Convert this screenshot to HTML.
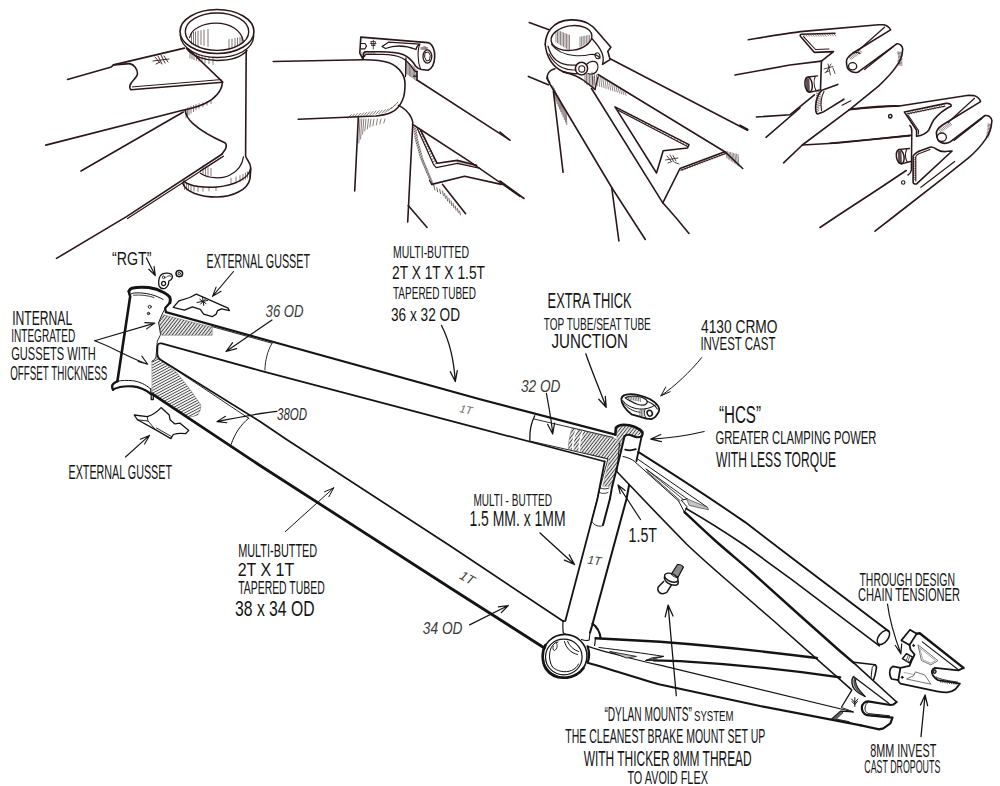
<!DOCTYPE html>
<html><head><meta charset="utf-8"><title>Frame details</title>
<style>
html,body{margin:0;padding:0;background:#fff}
svg{display:block}
text{font-family:"Liberation Sans",sans-serif;-webkit-font-smoothing:antialiased}
path,ellipse,line{stroke-linecap:round;stroke-linejoin:round}
</style></head><body>
<svg width="1000" height="786" viewBox="0 0 1000 786">
<rect width="1000" height="786" fill="#fff"/>
<ellipse cx="217" cy="31.5" rx="37" ry="22" transform="rotate(0 217 31.5)" stroke="#2b1719" stroke-width="1.6" fill="none"/>
<ellipse cx="217" cy="31.7" rx="31.7" ry="18.7" transform="rotate(0 217 31.7)" stroke="#2b1719" stroke-width="1.4" fill="none"/>
<path d="M180.3 35 C181 49 199 57.5 217 57.5 C236 57.5 253 50 253.7 36" stroke="#2b1719" stroke-width="1.4" fill="none" />
<path d="M186.5 48.5 C193 57 206 60.5 217 60.5 C230 60.5 241 57.5 247 50.5" stroke="#2b1719" stroke-width="1.4" fill="none" />
<path d="M189.7 37.5 C191 28.5 204 23.2 215.7 23.2 C230 23.2 241.5 30 243.2 41.2" stroke="#2b1719" stroke-width="1.3" fill="none" />
<path d="M246.2 50.5 L245.6 155.7 C246 160 250.8 161 250.8 169 L250 178.6 C248 190 232 197 217 197 C200 197 186 192 182.8 183.5 L184 181" stroke="#2b1719" stroke-width="1.6" fill="none" />
<path d="M184.4 181.6 C190 186.5 205 188 217 187 C235 185.5 249.5 178 250.6 168" stroke="#2b1719" stroke-width="1.4" fill="none" />
<path d="M200.4 173.2 C208 178.5 222 179.3 230 175 C238 171 242.5 164 243.4 157" stroke="#2b1719" stroke-width="1.3" fill="none" />
<path d="M67.5 79.4 L111.3 66.9 L113.5 64.9 L129.8 63.6" stroke="#2b1719" stroke-width="1.6" fill="none" />
<path d="M113.5 64.9 L184.4 48.1" stroke="#2b1719" stroke-width="1.6" fill="none" />
<path d="M129.8 63.6 C134 64.5 137.5 69 137.5 73.8 C137 78 131 81 130 85.3 C129.5 87.5 130 89 131.1 89.8 L222.8 82.2 L188.4 49" stroke="#2b1719" stroke-width="1.6" fill="none" />
<path d="M132.4 86.9 L221.0 79.6" stroke="#2b1719" stroke-width="1.0" fill="none" />
<path d="M222.3 83.3 C221.5 91 215 99 205 103.5 C197 107 190 109 183.6 110 L45.8 145.1" stroke="#2b1719" stroke-width="1.6" fill="none" />
<path d="M183.3 112.0 L81.0 171.0" stroke="#2b1719" stroke-width="1.6" fill="none" />
<path d="M185 110 C185.5 114 188 119 193 123.6 C200 130 212 137 224.8 142.7 C226.5 144 226.8 146 225.5 149 L221.8 154.2" stroke="#2b1719" stroke-width="1.6" fill="none" />
<path d="M222.3 154.0 L126.5 216.6 L56.5 258.4" stroke="#2b1719" stroke-width="1.6" fill="none" />
<path d="M223.5 156.2 L127.5 218.5" stroke="#2b1719" stroke-width="1.2" fill="none" />
<path d="M221.0 157.5 L200.0 171.0" stroke="#2b1719" stroke-width="1.0" fill="none" />
<path d="M155.0 57.0L160.0 63.0 M158.0 56.0L162.0 64.0 M161.0 55.0L165.0 63.0 M164.0 56.0L168.0 62.0 M153.0 61.0L169.0 59.0 M156.0 64.0L160.0 62.0" stroke="#2b1719" stroke-width="0.9" fill="none" opacity="1"/>
<path d="M191.5 33.0L191.5 44.0 M193.5 32.4L193.5 44.9 M195.5 31.8L195.5 45.8 M198.0 31.2L198.0 46.7 M201.0 30.6L201.0 44.6 M204.0 30.0L204.0 45.5 M208.0 29.4L208.0 46.4 M229.0 49.0L229.0 39.5 M232.0 47.8L232.0 39.0 M235.0 46.6L235.0 38.5 M237.5 45.4L237.5 38.0 M240.0 44.2L240.0 37.5 M242.0 43.0L242.0 37.0" stroke="#2b1719" stroke-width="0.8" fill="none" opacity="0.75"/>
<path d="M190.0 52.0L190.0 58.0 M192.0 52.7L192.0 58.8 M194.0 53.4L194.0 59.6 M196.5 54.1L196.5 60.4 M199.0 54.8L199.0 61.2 M202.0 55.5L202.0 62.0 M205.0 56.2L205.0 62.8 M209.0 56.9L209.0 63.6 M213.0 57.6L213.0 64.4" stroke="#2b1719" stroke-width="0.8" fill="none" opacity="0.7"/>
<path d="M186.0 109.0L186.0 118.0 M187.5 108.1L187.5 116.4 M189.0 107.2L189.0 114.8 M191.0 106.3L191.0 113.2 M193.5 105.4L193.5 111.6 M196.0 104.5L196.0 110.0 M199.0 103.6L199.0 108.4 M203.0 102.7L203.0 106.8 M207.0 101.8L207.0 105.2 M211.0 100.9L211.0 103.6" stroke="#2b1719" stroke-width="0.8" fill="none" opacity="0.7"/>
<path d="M184.5 183.5L184.5 189.5 M186.5 184.2L186.5 189.9 M188.5 184.9L188.5 190.3 M191.0 185.6L191.0 190.7 M194.0 186.3L194.0 191.1 M198.0 187.0L198.0 191.5 M203.0 187.0L203.0 191.2 M209.0 187.0L209.0 190.9 M216.0 187.0L216.0 190.6 M249.5 170.5L249.5 176.5 M247.5 171.8L247.5 177.8 M245.5 173.1L245.5 179.1 M243.0 174.4L243.0 180.4 M240.0 175.7L240.0 181.7 M236.0 177.0L236.0 183.0 M231.0 178.3L231.0 184.3 M203.0 166.0L203.0 174.0 M205.5 166.8L205.5 174.6 M208.0 167.6L208.0 175.2 M211.0 168.4L211.0 175.8" stroke="#2b1719" stroke-width="0.8" fill="none" opacity="0.7"/>
<path d="M273.2 61.5 L363.2 59.7" stroke="#2b1719" stroke-width="1.6" fill="none" />
<path d="M364.4 59.7 C375 59.7 384 61 389 62.8 C395 65 399 69 401.5 72.5 C404 76 405 80 405 84 C405 90 404.5 96 402.5 100 C400 106 396 110.5 391 112.5 C386 114.8 381 115.5 376 116 L298.2 119.3" stroke="#2b1719" stroke-width="1.6" fill="none" />
<path d="M358.3 117.9 L354.7 191.0" stroke="#2b1719" stroke-width="1.6" fill="none" />
<path d="M398.5 105.4 C404 108 409 113 411.5 118 C413 121 413.3 124 412.6 127 L410.2 172.7 L407.7 222" stroke="#2b1719" stroke-width="1.6" fill="none" />
<path d="M408.2 205.5 L427.1 227.5" stroke="#2b1719" stroke-width="1.6" fill="none" />
<path d="M417.0 80.0 L510.0 140.2" stroke="#2b1719" stroke-width="1.6" fill="none" />
<path d="M413.5 125.0 L468.3 160.6 L520.0 196.3" stroke="#2b1719" stroke-width="1.6" fill="none" />
<path d="M420.7 130.3 L437.1 163.3 L457.3 160.4 L476.5 165.2" stroke="#2b1719" stroke-width="1.6" fill="none" />
<path d="M417.5 128.8 L433.5 164.6 L436.2 167.7 L457.3 163.3 L480.5 168.5" stroke="#2b1719" stroke-width="1.2" fill="none" />
<path d="M431.7 184.4 L464.6 176.2 L501.3 184.4" stroke="#2b1719" stroke-width="1.6" fill="none" />
<path d="M429.5 180.5 L431.7 184.4" stroke="#2b1719" stroke-width="1.2" fill="none" />
<path d="M442.6 184.4 L465.6 213.7" stroke="#2b1719" stroke-width="1.6" fill="none" />
<path d="M363.2 59.5 L359.8 53.2 L360.8 37.1 L428 42.6 C432.5 44 435 50 434.7 56.7 C434.5 63 432 68.5 428 70.2 L421.5 69.5 C418.5 69 416.8 67.5 415.5 66 C412 60 408 56.5 403 54.5 C396 52 388 51.8 380 51.8 L365 51.8 C363.5 52.5 363 55 363.2 59.5" stroke="#2b1719" stroke-width="1.6" fill="none" />
<path d="M364.5 56.5 C364.6 54.8 365.5 54.4 367 54.4 L382 54.4 C390 54.6 397 55.5 402 58 C406 60 410.5 65 413.5 69.5 C415 71.5 416 72 417 71.5" stroke="#2b1719" stroke-width="1.3" fill="none" />
<path d="M406.0 58.0 L405.5 76.5" stroke="#2b1719" stroke-width="1.3" fill="none" />
<path d="M417.0 71.3 L417.0 80.0" stroke="#2b1719" stroke-width="1.6" fill="none" />
<path d="M413.5 76.2 L417.0 76.2" stroke="#2b1719" stroke-width="1.2" fill="none" />
<path d="M361 43.5 L365 43.5 L366.5 46 L365 48.8 L361 48.8" stroke="#2b1719" stroke-width="1.2" fill="none" />
<path d="M382 46.5 L388.5 42.2 L420 44.2 C418 45 416.5 46.8 416 49.5 C406 45.5 396 44.5 385.5 48.5 Z" stroke="#2b1719" stroke-width="1.3" fill="none" />
<ellipse cx="427.4" cy="56.5" rx="4.4" ry="6.6" transform="rotate(0 427.4 56.5)" stroke="#2b1719" stroke-width="1.3" fill="none"/>
<path d="M425.4 52.6 L428.5 52 L430.3 55.5 L429.5 60.2 L426.5 61 L424.8 57.5 Z" stroke="#2b1719" stroke-width="1.0" fill="none" />
<path d="M419.5 45 C417.5 50 417.5 62 420.5 69" stroke="#2b1719" stroke-width="1.1" fill="none" />
<path d="M371.0 41.5L375.0 41.5 M370.5 43.5L376.0 43.5 M373.3 40.0L373.3 49.0 M371.5 45.5L375.0 45.5 M371.0 42.0L372.0 45.0 M375.5 42.0L374.6 45.0" stroke="#2b1719" stroke-width="0.8" fill="none" opacity="1"/>
<path d="M348.0 118.2L351.2 114.6 M351.1 117.8L354.3 114.2 M354.2 117.3L357.4 113.7 M357.3 116.9L360.5 113.3 M360.4 116.4L363.6 112.8 M363.5 116.0L366.7 112.4 M366.6 115.5L369.8 111.9 M369.7 115.0L372.9 111.5 M372.8 114.6L376.0 111.0 M375.9 114.2L379.1 110.6 M379.0 113.7L382.2 110.1 M382.1 113.2L385.3 109.7 M385.2 112.5L388.4 108.9 M388.3 111.0L391.5 107.4 M391.4 108.8L394.6 105.2 M394.5 105.9L397.7 102.3" stroke="#2b1719" stroke-width="0.8" fill="none" opacity="0.75"/>
<path d="M360.0 119.0L358.8 143.0 M361.8 119.0L360.6 139.0 M363.8 119.0L362.6 134.0 M366.0 119.0L364.8 131.0 M368.5 119.0L367.3 129.0 M371.0 119.0L369.8 127.0 M374.0 119.0L372.8 126.0 M377.5 119.0L376.3 125.0 M381.0 119.0L379.8 124.0 M385.0 119.0L383.8 123.0" stroke="#2b1719" stroke-width="0.8" fill="none" opacity="0.7"/>
<path d="M405.5 60.0L405.5 73.0 M406.8 61.1L406.8 73.9 M408.1 62.2L408.1 74.8 M409.4 63.3L409.4 75.7 M410.7 64.4L410.7 76.6 M412.0 65.5L412.0 77.5 M413.3 66.6L413.3 78.4 M414.6 67.7L414.6 79.3 M415.9 68.8L415.9 80.2" stroke="#2b1719" stroke-width="0.8" fill="none" opacity="0.7"/>
<path d="M413.3 127.5L416.3 129.0 M413.6 129.3L416.6 130.8 M413.8 131.1L416.8 132.6 M414.1 132.9L417.1 134.4 M414.4 134.6L417.4 136.1 M414.6 136.4L417.6 137.9 M414.9 138.2L417.9 139.7 M415.3 140.0L418.3 141.5 M415.7 141.7L418.7 143.2 M416.2 143.4L419.2 144.9 M416.7 145.2L419.7 146.7 M417.2 146.9L420.2 148.4 M417.7 148.7L420.7 150.2 M418.2 150.4L421.2 151.9 M418.6 152.1L421.6 153.6 M419.1 153.9L422.1 155.4 M419.6 155.6L422.6 157.1 M420.1 157.4L423.1 158.9 M420.7 159.0L423.7 160.5 M421.4 160.7L424.4 162.2 M422.1 162.4L425.1 163.9 M422.8 164.0L425.8 165.5 M423.5 165.7L426.5 167.2 M424.2 167.4L427.2 168.9 M424.9 169.0L427.9 170.5 M425.6 170.7L428.6 172.2 M426.3 172.4L429.3 173.9 M427.0 174.0L430.0 175.5 M427.7 175.7L430.7 177.2 M428.4 177.3L431.4 178.8 M429.1 179.0L432.1 180.5 M429.8 180.7L432.8 182.2 M430.5 182.3L433.5 183.8 M431.2 184.0L434.2 185.5" stroke="#2b1719" stroke-width="0.75" fill="none" opacity="0.9"/>
<path d="M421.5 131.0L419.1 132.2 M422.7 133.5L420.3 134.7 M423.9 135.9L421.5 137.1 M425.1 138.4L422.7 139.6 M426.3 140.8L423.9 142.0 M427.5 143.3L425.1 144.5 M428.7 145.8L426.3 147.0 M429.8 148.2L427.4 149.4 M431.0 150.7L428.6 151.9 M432.2 153.2L429.8 154.4 M433.4 155.6L431.0 156.8 M434.6 158.1L432.2 159.3 M435.8 160.5L433.4 161.7 M437.0 163.0L434.6 164.2" stroke="#2b1719" stroke-width="0.8" fill="none" opacity="0.8"/>
<path d="M458.0 161.2L458.0 163.4 M460.0 161.6L460.0 163.8 M462.0 162.1L462.0 164.3 M464.0 162.5L464.0 164.7 M466.0 163.0L466.0 165.2 M468.0 163.4L468.0 165.6 M470.0 163.9L470.0 166.1 M472.0 164.3L472.0 166.5 M474.0 164.8L474.0 167.0 M476.0 165.2L476.0 167.4" stroke="#2b1719" stroke-width="0.8" fill="none" opacity="0.8"/>
<path d="M434.0 186.0L434.9 190.0 M436.8 187.7L437.7 191.9 M439.7 189.3L440.6 193.7 M442.5 191.0L443.4 195.6 M444.6 193.5L445.5 198.3 M446.7 196.0L447.6 201.0 M448.9 198.5L449.8 203.3 M451.0 201.0L451.9 205.6 M453.1 203.5L454.0 207.9 M455.2 206.0L456.1 210.2 M457.4 208.5L458.3 212.5 M459.5 211.0L460.4 214.8" stroke="#2b1719" stroke-width="0.8" fill="none" opacity="0.85"/>
<path d="M362.0 52.5L362.0 54.6 M363.6 52.5L363.6 54.6 M365.2 52.5L365.2 54.6 M366.8 52.5L366.8 54.6 M368.4 52.5L368.4 54.6 M370.0 52.5L370.0 54.6 M371.6 52.5L371.6 54.6 M373.2 52.5L373.2 54.6 M374.8 52.5L374.8 54.6 M421.0 47.7L421.0 49.5 M421.9 47.4L421.9 49.5 M422.8 47.1L422.8 49.5 M423.7 46.8L423.7 49.5 M424.6 46.5L424.6 49.5 M425.5 46.8L425.5 49.5 M426.4 47.1L426.4 49.5 M427.3 47.4L427.3 49.5" stroke="#2b1719" stroke-width="0.7" fill="none" opacity="0.7"/>
<path d="M529.2 22.6 L549.0 29.8" stroke="#2b1719" stroke-width="1.6" fill="none" />
<path d="M528.4 76.4 L548.3 84.8" stroke="#2b1719" stroke-width="1.6" fill="none" />
<path d="M500.0 132.0 L509.0 139.5" stroke="#2b1719" stroke-width="1.6" fill="none" />
<path d="M500.0 181.0 L524.0 198.5" stroke="#2b1719" stroke-width="1.6" fill="none" />
<path d="M545.2 44.3 C545.5 38 547.5 33 550.5 29 C555 23.5 562 20.2 570.4 19.9 C577 19.7 583 21 587.2 22.9 C591 25 594 27.5 596.4 30.5 L610.9 47.3 L607.8 51.2 L610.1 59.6 L602.5 64.2" stroke="#2b1719" stroke-width="1.6" fill="none" />
<ellipse cx="571.5" cy="38" rx="20.5" ry="12.3" transform="rotate(-8 571.5 38)" stroke="#2b1719" stroke-width="1.4" fill="none"/>
<path d="M545.2 44.3 C546 52 548 57 551 61.5 C554 66 558 69.5 563 71.5 C568 73.5 573 74 577.5 73.5" stroke="#2b1719" stroke-width="1.5" fill="none" />
<path d="M548 46 C549.5 52 552 56.5 556 60 C561 64 568 65.8 576 65" stroke="#2b1719" stroke-width="1.2" fill="none" />
<path d="M549 54 C552 60 556 64.5 562 67.5 C567 69.8 572 70.3 576 69.8" stroke="#2b1719" stroke-width="1.1" fill="none" />
<path d="M551.5 44.5 C556 50.5 564 54.5 574 55.5 C580 56 586 55.5 590 54.5" stroke="#2b1719" stroke-width="1.2" fill="none" />
<ellipse cx="581.5" cy="68.6" rx="6.1" ry="6.3" transform="rotate(0 581.5 68.6)" stroke="#2b1719" stroke-width="1.5" fill="none"/>
<ellipse cx="581.8" cy="68.9" rx="3" ry="3.2" transform="rotate(0 581.8 68.9)" stroke="#2b1719" stroke-width="1.1" fill="none"/>
<path d="M587 64 C590 61 594 60.5 596.5 62.5 C598.5 65 598.5 69 596 72 C594 74 591 74.8 588 73.5" stroke="#2b1719" stroke-width="1.3" fill="none" />
<path d="M591.8 38.5 C596 43 600 48 602 53 C603.5 57 603.5 61 602.5 64.2" stroke="#2b1719" stroke-width="1.3" fill="none" />
<path d="M590 54.5 C594 54 598 55.5 600 58" stroke="#2b1719" stroke-width="1.2" fill="none" />
<ellipse cx="597.5" cy="55.8" rx="2.3" ry="3" transform="rotate(-20 597.5 55.8)" stroke="#2b1719" stroke-width="1.1" fill="none"/>
<path d="M610.1 58.8 L747.5 130.3" stroke="#2b1719" stroke-width="1.6" fill="none" />
<path d="M547.3 76 C548 72.5 551 69.5 555 68.7" stroke="#2b1719" stroke-width="1.4" fill="none" />
<path d="M547.3 76 C547 78 548 80.5 549.6 82.5" stroke="#2b1719" stroke-width="1.6" fill="none" />
<path d="M563 72 C572 73.5 582 78.5 589 84.5 C591.5 86.5 593.5 88.3 595 89.5" stroke="#2b1719" stroke-width="1.4" fill="none" />
<path d="M595.0 89.5 L598.0 76.8" stroke="#2b1719" stroke-width="1.3" fill="none" />
<path d="M598.0 74.5 L724.8 151.7" stroke="#2b1719" stroke-width="1.6" fill="none" />
<path d="M553.4 91.2 L563.1 172.3" stroke="#2b1719" stroke-width="1.6" fill="none" />
<path d="M546.7 78 L549.6 83.5 L611.7 187.5 L645.3 239.5" stroke="#2b1719" stroke-width="1.6" fill="none" />
<path d="M611.7 187.5 L618.9 240.9" stroke="#2b1719" stroke-width="1.6" fill="none" />
<path d="M591.5 88.5 L662.8 202.8 C672 213 681 223.5 689 233.5" stroke="#2b1719" stroke-width="1.6" fill="none" />
<path d="M662.8 202.8 L680.0 168.5 L724.8 151.7 L742.7 168.5" stroke="#2b1719" stroke-width="1.6" fill="none" />
<path d="M680.8 170.3 L725.5 153.6" stroke="#2b1719" stroke-width="1.1" fill="none" />
<path d="M615.0 106.9 L689.0 144.6 L687.5 148.0 L663.2 150.8 L656.5 173.0 Z" stroke="#2b1719" stroke-width="1.6" fill="none" />
<path d="M617.5 110.0 L687.5 146.6" stroke="#2b1719" stroke-width="1.1" fill="none" />
<path d="M667.0 156.0L671.0 161.0 M670.0 155.0L674.0 162.0 M673.0 155.5L676.0 161.0 M665.5 160.0L678.0 158.0 M668.0 163.0L672.0 161.5 M675.0 162.5L679.0 164.0" stroke="#2b1719" stroke-width="0.8" fill="none" opacity="1"/>
<path d="M553.0 86.0L553.6 96.0 M554.2 88.4L554.8 98.6 M555.4 90.8L556.0 101.2 M556.6 93.2L557.2 103.8 M557.8 95.6L558.4 106.4 M559.0 98.0L559.6 109.0 M560.2 100.4L560.8 111.6 M561.4 102.8L562.0 114.2 M562.6 105.2L563.2 116.8 M563.8 107.6L564.4 119.4 M565.0 110.0L565.6 122.0 M566.2 112.4L566.8 124.6" stroke="#2b1719" stroke-width="0.8" fill="none" opacity="0.7"/>
<path d="M556.0 32.2L556.0 42.0 M557.5 31.6L557.5 42.9 M559.0 31.0L559.0 43.8 M560.5 31.6L560.5 44.7 M562.0 32.2L562.0 45.6 M563.5 32.8L563.5 46.5 M565.0 33.4L565.0 47.4 M566.5 34.0L566.5 48.3 M568.0 34.6L568.0 49.2 M569.5 35.2L569.5 50.1 M580.0 47.0L580.0 37.0 M581.6 46.1L581.6 36.7 M583.2 45.2L583.2 36.4 M584.8 44.3L584.8 36.1 M586.4 43.4L586.4 35.8 M588.0 42.5L588.0 35.5 M589.6 41.6L589.6 35.2" stroke="#2b1719" stroke-width="0.8" fill="none" opacity="0.65"/>
<path d="M592.0 72.0L593.0 84.0 M594.2 73.3L595.2 84.8 M596.4 74.7L597.4 85.5 M598.6 76.0L599.6 86.2 M600.8 77.4L601.8 87.0 M603.0 78.8L604.0 87.8 M605.2 80.1L606.2 88.5 M607.4 81.5L608.4 89.2 M609.6 82.8L610.6 90.0 M611.8 84.2L612.8 90.8 M614.0 85.5L615.0 91.5 M616.2 86.8L617.2 92.2 M618.4 88.2L619.4 93.0 M620.6 89.5L621.6 93.8 M622.8 90.9L623.8 94.5 M625.0 92.2L626.0 95.2" stroke="#2b1719" stroke-width="0.8" fill="none" opacity="0.65"/>
<path d="M619.0 110.3L619.9 108.6 M621.9 111.8L622.8 110.1 M624.8 113.4L625.7 111.7 M627.7 114.9L628.6 113.2 M630.7 116.4L631.6 114.7 M633.6 118.0L634.5 116.3 M636.5 119.5L637.4 117.8 M639.4 121.0L640.3 119.3 M642.3 122.5L643.2 120.8 M645.2 124.1L646.1 122.4 M648.1 125.6L649.0 123.9 M651.0 127.1L651.9 125.4 M654.0 128.7L654.9 127.0 M656.9 130.2L657.8 128.5 M659.8 131.7L660.7 130.0 M662.7 133.3L663.6 131.6 M665.6 134.8L666.5 133.1 M668.5 136.3L669.4 134.6 M671.4 137.8L672.3 136.1 M674.3 139.4L675.2 137.7 M677.3 140.9L678.2 139.2 M680.2 142.4L681.1 140.7 M683.1 144.0L684.0 142.3 M686.0 145.5L686.9 143.8" stroke="#2b1719" stroke-width="0.7" fill="none" opacity="0.8"/>
<path d="M682.0 169.0L682.7 170.6 M684.5 168.0L685.2 169.6 M686.9 167.1L687.6 168.7 M689.4 166.1L690.1 167.7 M691.9 165.1L692.6 166.7 M694.4 164.2L695.1 165.8 M696.8 163.2L697.5 164.8 M699.3 162.2L700.0 163.8 M701.8 161.3L702.5 162.9 M704.2 160.3L704.9 161.9 M706.7 159.4L707.4 161.0 M709.2 158.4L709.9 160.0 M711.6 157.4L712.3 159.0 M714.1 156.5L714.8 158.1 M716.6 155.5L717.3 157.1 M719.1 154.5L719.8 156.1 M721.5 153.6L722.2 155.2 M724.0 152.6L724.7 154.2" stroke="#2b1719" stroke-width="0.7" fill="none" opacity="0.8"/>
<path d="M726.0 151.3L726.9 157.9 M727.5 151.7L728.4 159.0 M729.0 152.1L729.9 160.0 M730.5 152.5L731.4 161.0 M732.0 152.9L732.9 162.1 M733.5 153.3L734.4 163.1 M735.0 153.7L735.9 164.1 M736.5 154.1L737.4 165.2 M738.0 154.5L738.9 166.2" stroke="#2b1719" stroke-width="0.8" fill="none" opacity="0.65"/>
<path d="M585.0 73.0L585.0 83.0 M586.5 73.6L586.5 83.9 M588.0 74.2L588.0 84.8 M589.5 74.8L589.5 85.7 M591.0 75.4L591.0 86.6 M592.5 76.0L592.5 87.5 M594.0 76.6L594.0 88.4" stroke="#2b1719" stroke-width="0.8" fill="none" opacity="0.7"/>
<path d="M748.3 39.8 C765 37 785 33.5 800.6 31.6 L878.5 24.7 L883.7 24.7 C887 25.5 889.5 27.5 890.6 29.9 L852.5 53.3 C848 56.5 846 59 846.5 61.9 C846.5 66 848 69.5 849.9 70.6 C852 72.5 855 72.8 857.7 72.3 L896.7 43.8 C900 43.5 902.5 46 902.7 49 C902.5 56 900 62 895.8 67.1 C891 74 885 80 878.5 86.2 L850.8 108.7 L802.3 145 L783.6 162.8" stroke="#2b1719" stroke-width="1.6" fill="none" />
<path d="M884.5 27.2 L858.0 50.8" stroke="#2b1719" stroke-width="1.2" fill="none" />
<path d="M893.5 46.5 L864.5 69.5" stroke="#2b1719" stroke-width="1.2" fill="none" />
<path d="M852.5 53.3 C855 52.5 858 52 860 53.5" stroke="#2b1719" stroke-width="1.1" fill="none" />
<ellipse cx="852.6" cy="66.3" rx="4.1" ry="3.6" transform="rotate(0 852.6 66.3)" stroke="#2b1719" stroke-width="1.3" fill="none"/>
<path d="M835 33.2 L801.5 34.2 C800 34.5 799.8 35.5 800.6 36.5 L814.4 52.4 L833.5 51.6 L821.4 61.1" stroke="#2b1719" stroke-width="1.6" fill="none" />
<path d="M735.0 75.0 L790.0 65.0 L821.4 61.1" stroke="#2b1719" stroke-width="1.6" fill="none" />
<path d="M803.5 36.6 L815.5 49.5 L829.0 49.0" stroke="#2b1719" stroke-width="1.1" fill="none" />
<path d="M821.4 61.1 L820.5 89.6" stroke="#2b1719" stroke-width="1.6" fill="none" />
<ellipse cx="808.6" cy="84.6" rx="3.6" ry="7.6" transform="rotate(-8 808.6 84.6)" stroke="#2b1719" stroke-width="1.5" fill="none"/>
<path d="M808.2 77.0 L817.5 75.8" stroke="#2b1719" stroke-width="1.3" fill="none" />
<path d="M809.5 92.3 L819.5 90.0" stroke="#2b1719" stroke-width="1.3" fill="none" />
<path d="M815.3 76.5 C813.5 80 813.8 86 816 90.5" stroke="#2b1719" stroke-width="1.1" fill="none" />
<path d="M837.8 84.4 L822 90.2 C818 94 816 100 815.6 106 C815.5 110 816 113.5 817.5 114 L823.1 112.1 L843.9 99.2" stroke="#2b1719" stroke-width="1.6" fill="none" />
<path d="M824 91.5 C821.5 96 820.5 104 821.5 110.5" stroke="#2b1719" stroke-width="1.1" fill="none" />
<path d="M842.1 105.2 L850.8 100.8" stroke="#2b1719" stroke-width="1.2" fill="none" />
<path d="M756.4 117.0 L790.2 114.7 L814.4 94.8" stroke="#2b1719" stroke-width="1.6" fill="none" />
<path d="M766.0 137.3 L800.0 108.0" stroke="#2b1719" stroke-width="1.6" fill="none" />
<path d="M740.0 125.1 L747.8 129.5" stroke="#2b1719" stroke-width="1.6" fill="none" />
<path d="M802.3 145.0 L838.0 143.0 L910.0 135.6" stroke="#2b1719" stroke-width="1.6" fill="none" />
<path d="M850.8 109 C870 107 890 105.5 899.3 106" stroke="#2b1719" stroke-width="1.6" fill="none" />
<ellipse cx="890.3" cy="116" rx="1.7" ry="1.7" transform="rotate(0 890.3 116)" stroke="#2b1719" stroke-width="1.1" fill="none"/>
<path d="M824.0 69.0L833.0 66.5 M828.0 64.0L830.5 75.0 M831.0 64.0L826.5 72.0 M833.0 68.0L835.0 73.5 M825.0 72.5L829.0 71.0" stroke="#2b1719" stroke-width="0.8" fill="none" opacity="1"/>
<path d="M849 109.8 C870 107.5 885 106.3 899.3 106 C925 102 950 98 968.5 95.2 L973.7 95.6 C977 96.5 979.5 98.5 980.6 101.6 L942.5 125 C938 128 936 131 936.5 134 C936.7 138 938.5 141.5 941 142.5 C944 143.8 947 143.5 949.5 142.3 L985 115.5 C988.5 115 991.5 117.5 991.9 120.7 C991.5 127.5 989.5 133.5 985.8 138.9 C981 146 975 152.5 968.5 157.9 L942.5 178.7 L895.8 215 L875 231.2" stroke="#2b1719" stroke-width="1.6" fill="none" />
<path d="M974.5 98.3 L948.0 122.5" stroke="#2b1719" stroke-width="1.2" fill="none" />
<path d="M982 118.5 L954 140.5" stroke="#2b1719" stroke-width="1.2" fill="none" />
<ellipse cx="941.8" cy="137.2" rx="4.6" ry="4.2" transform="rotate(0 941.8 137.2)" stroke="#2b1719" stroke-width="1.3" fill="none"/>
<path d="M904.4 112 L946 103.4 C949.5 103 951.5 104.5 951.2 106 C945 109 938.5 114 933.9 119.8 C931 124 930 128 928.7 130.2 C926 133.5 921 135.5 916.6 136.3 L916.6 130.2 Z" stroke="#2b1719" stroke-width="1.6" fill="none" />
<path d="M907.5 113.8 L944.5 106.2" stroke="#2b1719" stroke-width="1.1" fill="none" />
<path d="M908 115 L918.5 130.5 L918.5 134" stroke="#2b1719" stroke-width="1.1" fill="none" />
<path d="M913.1 156.2 C915 153 918 151.5 921 150.5 L930 147.2 C933 146.5 935 148 937 149.5 C940 151.5 944 152 948 151.2 L952.1 151 L916.6 183.9 C914.5 184.3 913.2 183.5 913.1 182.1 Z" stroke="#2b1719" stroke-width="1.6" fill="none" />
<path d="M915.6 158 C916 155 918.5 153.5 921.5 152.8 L930 149.5" stroke="#2b1719" stroke-width="1.1" fill="none" />
<path d="M915.8 158 L915.8 181" stroke="#2b1719" stroke-width="1.1" fill="none" />
<path d="M909.8 125.5 C911.5 127 912 129.5 911.8 132 L911.4 170 C911 172.5 910 174 908 175" stroke="#2b1719" stroke-width="1.5" fill="none" />
<path d="M830.0 143.2 L870.0 139.5 L910.5 135.4" stroke="#2b1719" stroke-width="1.6" fill="none" />
<path d="M820 227.5 L838.7 215 L880 188 L906.2 170.5" stroke="#2b1719" stroke-width="1.6" fill="none" />
<ellipse cx="900.2" cy="156.6" rx="3.8" ry="7.2" transform="rotate(-10 900.2 156.6)" stroke="#2b1719" stroke-width="1.5" fill="none"/>
<path d="M899.5 149.4 L909.5 148.5" stroke="#2b1719" stroke-width="1.3" fill="none" />
<path d="M901.5 163.8 L910.5 161.5" stroke="#2b1719" stroke-width="1.3" fill="none" />
<path d="M906.8 149 C905 153 905.2 158.5 907.5 162.5" stroke="#2b1719" stroke-width="1.1" fill="none" />
<ellipse cx="890.2" cy="116.4" rx="1.7" ry="1.7" transform="rotate(0 890.2 116.4)" stroke="#2b1719" stroke-width="1.1" fill="none"/>
<ellipse cx="903.2" cy="182.5" rx="1.7" ry="1.7" transform="rotate(0 903.2 182.5)" stroke="#2b1719" stroke-width="1.1" fill="none"/>
<path d="M920.9 187.3 L954.7 161.4" stroke="#2b1719" stroke-width="1.2" fill="none" />
<path d="M803.0 34.3L804.6 36.3 M805.4 34.3L807.0 36.3 M807.8 34.3L809.4 36.3 M810.2 34.3L811.8 36.3 M812.6 34.3L814.2 36.3 M815.0 34.3L816.6 36.3 M817.4 34.3L819.0 36.3 M819.8 34.3L821.4 36.3 M822.2 34.3L823.8 36.3 M824.6 34.3L826.2 36.3 M827.0 34.3L828.6 35.7 M829.4 34.3L831.0 35.7 M831.8 34.3L833.4 35.7 M834.2 34.3L835.8 35.7 M849.0 57.0L851.2 59.5 M850.3 56.1L852.5 58.6 M851.6 55.2L853.8 57.7 M852.9 54.3L855.1 56.8 M854.2 53.4L856.4 55.9 M855.5 52.5L857.7 55.0 M856.8 51.6L859.0 54.1 M858.1 50.7L860.3 53.2 M859.4 49.8L861.6 52.3 M897.5 52.0L902.0 52.6 M897.8 53.4L902.0 54.0 M898.0 54.8L902.0 55.4 M898.2 56.2L902.0 56.8 M898.5 57.6L902.0 58.2 M898.2 59.0L902.0 59.6 M898.0 60.4L902.0 61.0 M897.8 61.8L902.0 62.4 M897.5 63.2L902.0 63.8 M897.2 64.6L902.0 65.2 M816.5 92.0L820.5 90.8 M816.4 93.8L820.5 92.6 M816.4 95.6L820.5 94.4 M816.3 97.4L820.5 96.2 M816.2 99.2L820.5 98.0 M816.1 101.0L820.5 99.8 M816.1 102.8L820.5 101.6 M816.0 104.6L820.5 103.4 M815.9 106.4L820.5 105.2 M815.9 108.2L819.0 107.0 M815.8 110.0L819.0 108.8 M815.7 111.8L819.0 110.6 M806.0 78.0L806.5 91.0 M806.5 78.2L807.0 91.1 M807.0 78.4L807.5 91.2 M807.5 78.6L808.0 91.3 M808.0 78.8L808.5 91.4 M808.5 79.0L809.0 91.5 M809.0 79.2L809.5 91.6" stroke="#2b1719" stroke-width="0.7" fill="none" opacity="0.8"/>
<path d="M908.0 112.5L909.3 114.3 M910.4 112.0L911.7 113.8 M912.8 111.5L914.1 113.3 M915.2 111.0L916.5 112.8 M917.6 110.5L918.9 112.3 M920.0 110.0L921.3 111.8 M922.4 109.5L923.7 111.3 M924.8 109.0L926.1 110.8 M927.2 108.5L928.5 110.3 M929.6 108.0L930.9 109.8 M932.0 107.5L933.3 109.3 M934.4 107.0L935.7 108.8 M936.8 106.5L938.1 108.3 M939.2 106.0L940.5 107.8 M941.6 105.5L942.9 107.3 M944.0 105.0L945.3 106.8 M939.0 129.5L941.2 132.0 M940.3 128.6L942.5 131.1 M941.6 127.7L943.8 130.2 M942.9 126.8L945.1 129.3 M944.2 125.9L946.4 128.4 M945.5 125.0L947.7 127.5 M946.8 124.1L949.0 126.6 M948.1 123.2L950.3 125.7 M949.4 122.3L951.6 124.8 M987.8 124.0L991.2 124.6 M987.8 125.4L991.2 126.0 M987.8 126.8L991.2 127.4 M987.8 128.2L991.2 128.8 M987.8 129.6L990.8 130.2 M987.5 131.0L990.3 131.6 M987.2 132.4L989.9 133.0 M986.9 133.8L989.4 134.4 M986.6 135.2L989.0 135.8 M986.3 136.6L988.5 137.2 M913.4 158.0L915.6 157.4 M913.4 159.8L915.6 159.2 M913.4 161.6L915.6 161.0 M913.4 163.4L915.6 162.8 M913.4 165.2L915.6 164.6 M913.4 167.0L915.6 166.4 M913.4 168.8L915.6 168.2 M913.4 170.6L915.6 170.0 M913.4 172.4L915.6 171.8 M913.4 174.2L915.6 173.6 M913.4 176.0L915.6 175.4 M913.4 177.8L915.6 177.2 M913.4 179.6L915.6 179.0 M898.0 150.5L898.6 163.0 M898.5 150.7L899.1 163.1 M899.0 150.9L899.6 163.2 M899.5 151.1L900.1 163.3 M900.0 151.3L900.6 163.4 M900.5 151.5L901.1 163.5 M901.0 151.7L901.6 163.6" stroke="#2b1719" stroke-width="0.7" fill="none" opacity="0.8"/>
<defs><pattern id="hz" width="2.6" height="2.6" patternUnits="userSpaceOnUse" patternTransform="rotate(-52)"><rect width="2.6" height="2.6" fill="#e6e6e6"/><line x1="0" y1="1.3" x2="2.6" y2="1.3" stroke="#444" stroke-width="1.05"/></pattern><pattern id="hz2" width="2.5" height="2.5" patternUnits="userSpaceOnUse" patternTransform="rotate(-28)"><rect width="2.5" height="2.5" fill="#f4f4f4"/><line x1="0" y1="1.25" x2="2.5" y2="1.25" stroke="#444" stroke-width="0.85"/></pattern></defs>
<path d="M163.2 314.7 L212.2 327.3 L212.2 335.2 L161.9 335.2 L160.2 330 L158.8 322.7 Z" stroke="#666" stroke-width="0.5" fill="url(#hz)" />
<path d="M152.1 361.2 L156 358 L161.9 361.2 L176.6 372.6 L189 388 L201 405.2 L200 411 L197.8 415 L193 416.5 L188 416.6 L152.4 392.8 Z" stroke="#666" stroke-width="0.5" fill="url(#hz2)" />
<path d="M128.8 291.2 C129.5 289.5 130.5 288.6 131.8 288.2 C137 287 143 286.9 148.7 287.6 C154 288.3 159 289.8 163.2 292.2 C166.5 294 169 295.8 169.9 297.5 C170.6 299.3 170.4 301 169.9 302.8" stroke="#141414" stroke-width="3" fill="none" />
<path d="M129 291.5 C129 293.5 129.5 295 130.2 296.2 L117.4 381.3" stroke="#141414" stroke-width="2.6" fill="none" />
<path d="M129.8 294.8 C131 293.5 133 293 136 292.9 C145 292.5 156 295 163.2 299.5" stroke="#141414" stroke-width="1" fill="none" />
<path d="M133.5 295.2 C140 294.6 148 295.4 154 297.5" stroke="#141414" stroke-width="0.8" fill="none" />
<path d="M169.9 302.8 L165.2 308.1 L165.9 312.1" stroke="#141414" stroke-width="2.2" fill="none" />
<path d="M165.2 308.1 L161.9 314.7 L158.6 322.7 L160.6 334.6 L157.3 341.2 L156 357" stroke="#141414" stroke-width="0.9" fill="none" />
<path d="M117.4 381.3 C115 382.5 112.6 384 112.2 385.6 C112 387 112.4 388.6 113 389.7" stroke="#141414" stroke-width="2.4" fill="none" />
<path d="M113 389.5 C119 386.5 126 385.9 132.6 386.4 C139 387 146 390 150.7 393.8" stroke="#141414" stroke-width="2.2" fill="none" />
<path d="M117.4 381.3 C122 380.3 127 380.2 132.6 380.7 C139 381.5 146 384.5 150.5 388.9" stroke="#141414" stroke-width="1" fill="none" />
<path d="M150.7 388.5 L150.9 393.5" stroke="#141414" stroke-width="1.2" fill="none" />
<path d="M151.2 394 L151.2 399.5 L153.3 399.5 L153.3 395" stroke="#141414" stroke-width="1.3" fill="none" />
<ellipse cx="149.7" cy="306.8" rx="1.5" ry="1.5" transform="rotate(0 149.7 306.8)" stroke="#141414" stroke-width="0.9" fill="none"/>
<ellipse cx="148.5" cy="313.5" rx="1.2" ry="1.2" transform="rotate(0 148.5 313.5)" stroke="#141414" stroke-width="0.9" fill="#999"/>
<path d="M165.9 312.1 L260 338.2 L480 399.3 L615.3 434.6" stroke="#141414" stroke-width="2.2" fill="none" />
<path d="M212 326.6 L272 343.2" stroke="#141414" stroke-width="0.9" fill="none" />
<path d="M604.7 461.5 L480 428.6 L260 370.6 L161.5 343.4 C159 343 157.6 344.2 157.5 346 L157.3 354.4 C157.5 357 158.6 358.6 160.6 359.8 L260 421.5 L286.6 439.5 L450 545.8 L563.2 621.2" stroke="#141414" stroke-width="1.7" fill="none" />
<path d="M156 357 C155.5 359 154 360.5 152.1 361.2" stroke="#141414" stroke-width="0.9" fill="none" />
<path d="M152.1 393.8 L260 465.5 L450 587.7 L544.4 648" stroke="#141414" stroke-width="2.8" fill="none" />
<path d="M163 361.5 L204 388.5 L249 418.5" stroke="#141414" stroke-width="0.9" fill="none" />
<path d="M272 343.3 C267.5 351 265.2 360 264.9 370" stroke="#141414" stroke-width="0.9" fill="none" />
<path d="M248.6 418.2 C240.5 425 234.5 434 231.2 444.3" stroke="#141414" stroke-width="1" fill="none" />
<path d="M534.7 415.8 C531 423 529.5 431.5 529.8 440.3" stroke="#141414" stroke-width="1.3" fill="none" />
<path d="M572.2 428.1 L615.2 438.7 L621.2 442.7 L621.2 450.6 L611.9 486.3 L602.7 486.3 L609.3 459.9 L568.2 448.6 C568.5 441 569.8 434 572.2 428.1 Z" stroke="#666" stroke-width="0.4" fill="url(#hz)" />
<path d="M576.5 429.5 C573.5 436 572.5 443 572.8 450" stroke="#fff" stroke-width="1.6" fill="none" />
<path d="M583 431 C580 438 579 445 579.3 452" stroke="#fff" stroke-width="1.6" fill="none" />
<path d="M617.5 427.5 C619 425.8 622 425 626 425.2 C632 425.6 638 428 641.5 432 C640 435 636 436.6 631 435.5 C628 434.8 626 434.8 624.5 436 L621.5 444 L617 438.5 Z" stroke="#666" stroke-width="0.4" fill="url(#hz)" />
<path d="M534 419 L613.2 437.4" stroke="#141414" stroke-width="0.9" fill="none" />
<path d="M529.8 441 L608 458.8 L600 488" stroke="#141414" stroke-width="0.9" fill="none" />
<path d="M615.3 434.6 L615.9 427.8 C617.5 425.6 620.5 424.7 623.8 424.7 C628 424.8 631.5 425.6 634.4 426.8 C638 428.4 641 430.2 642.4 432.1 C642.8 433.5 642.5 435 641.7 436" stroke="#141414" stroke-width="2.6" fill="none" />
<path d="M624.5 436.3 C626 434.8 627.5 434.5 629.1 434.7 C632 435.3 634.5 437 637.1 437.3 C639 437.4 640.8 436.8 641.7 436" stroke="#141414" stroke-width="2" fill="none" />
<path d="M624.5 436.3 L621.2 450.6 L611.9 487.7 L609.9 499" stroke="#141414" stroke-width="2" fill="none" />
<path d="M604.7 461.5 L597.4 499 L565.3 620.9 L563.2 621.2" stroke="#141414" stroke-width="1.8" fill="none" />
<path d="M609.9 499 L603 525" stroke="#141414" stroke-width="2" fill="none" />
<path d="M641.7 436 L636.4 461.2" stroke="#141414" stroke-width="1.8" fill="none" />
<path d="M629.1 485 L626.5 499 L592 626 L590 632.6" stroke="#141414" stroke-width="2" fill="none" />
<path d="M625.2 449.6 C628.5 450.6 632.5 450.4 635.8 449.2" stroke="#141414" stroke-width="1.8" fill="none" />
<path d="M623 456.5 C627 457.2 631.5 459 634.4 461.2" stroke="#141414" stroke-width="1" fill="none" />
<path d="M600.5 488 C603 489.3 606.5 489.3 609 488" stroke="#141414" stroke-width="0.9" fill="none" />
<path d="M599.5 492.5 C602 493.8 605.5 493.8 608 492.5" stroke="#141414" stroke-width="0.8" fill="none" />
<path d="M600 488 L591.5 521 C594 525.5 599.5 527.5 603 525.5" stroke="#141414" stroke-width="0.9" fill="none" />
<path d="M638.2 451.9 C670 472 710 498 745 522.1 L794.6 560 L888.7 631.3" stroke="#141414" stroke-width="1.9" fill="none" />
<path d="M686 508.5 C700 516.5 725 532 745 545.5 L791.8 579.6 L879.4 645.8" stroke="#141414" stroke-width="1.6" fill="none" />
<ellipse cx="883.4" cy="637.4" rx="4.6" ry="8.2" transform="rotate(38 883.4 637.4)" stroke="#141414" stroke-width="1.5" fill="none"/>
<path d="M636.8 458.5 L707.7 507.5" stroke="#141414" stroke-width="1.0" fill="none" />
<path d="M634.9 461.8 L678.5 500.9" stroke="#141414" stroke-width="1.0" fill="none" />
<path d="M646.1 469.1 L687.1 498.9" stroke="#141414" stroke-width="0.9" fill="none" />
<path d="M646.1 469.1 L683.5 499.6" stroke="#141414" stroke-width="0.8" fill="none" />
<path d="M647 471.5 L680 500.5" stroke="#141414" stroke-width="0.8" fill="none" />
<path d="M678.5 500.9 L684.5 512.1 L687.1 506.8 L681.2 500.2 L687.1 498.9" stroke="#141414" stroke-width="1.0" fill="none" />
<path d="M687.1 498.9 L707.7 507.5 L708.5 509.8 L689.5 505.5 Z" stroke="#555" stroke-width="0.8" fill="#c4c4c4" />
<path d="M684.5 512.1 C695 522 705 531.5 715.6 541 C727 551 739 561 751.1 571.5 L803.3 618.5 L838.7 650 L853.5 662.6" stroke="#141414" stroke-width="2.4" fill="none" />
<path d="M853.5 662.6 L896.6 702" stroke="#141414" stroke-width="1.6" fill="none" />
<path d="M617 471.8 C640 496 663 520 686.5 544 C700 557 715 570 730 583 L772.7 620 L851.4 689.6" stroke="#141414" stroke-width="1.6" fill="none" />
<path d="M619.5 443 L617 471.8" stroke="#141414" stroke-width="0.9" fill="none" />
<ellipse cx="564.8" cy="656" rx="22.2" ry="21.6" transform="rotate(0 564.8 656)" stroke="#141414" stroke-width="1.6" fill="none"/>
<path d="M545.5 645 C541.5 652 541.8 662 546 669 C551 676 559 678.5 567 677.6 C574 676.6 580 673 583.5 668" stroke="#141414" stroke-width="2.6" fill="none" />
<ellipse cx="563.8" cy="657" rx="18.3" ry="17.8" transform="rotate(0 563.8 657)" stroke="#141414" stroke-width="1.2" fill="none"/>
<path d="M552.5 667 C548.5 661 548.5 651 552.5 645.5 C554.5 643 556.5 642 558 642" stroke="#141414" stroke-width="1" fill="none" />
<path d="M556 642.5 C558 645 557.5 649 554.5 650.5 C553 650.5 552.6 648 553.2 646" stroke="#141414" stroke-width="0.9" fill="none" />
<path d="M564.5 641.5 C566 648 571 653 577.5 654.5" stroke="#141414" stroke-width="1" fill="none" />
<path d="M567.5 641.2 C569.5 646 573.5 650 578.5 651.5" stroke="#141414" stroke-width="1" fill="none" />
<path d="M552.5 667 C557 671.5 565 673 571.5 670.5 C575 669 577.5 666.5 578.5 664" stroke="#141414" stroke-width="1" fill="none" />
<path d="M563.2 621.2 C562.6 624 562.8 628 563.2 632.6 C563.8 634 564.5 634.6 566 634.4" stroke="#141414" stroke-width="1.2" fill="none" />
<path d="M590 632.6 L589.2 640 C587 640.8 584 640.4 581.5 639.4" stroke="#141414" stroke-width="1.1" fill="none" />
<path d="M592.5 623.6 C597 627 600 632 600.6 638.3" stroke="#141414" stroke-width="2" fill="none" />
<path d="M595.5 638.3 L660 641.8 C715 646 770 652 816.8 658" stroke="#141414" stroke-width="2.4" fill="none" />
<path d="M595.5 638.3 L594.6 645.5" stroke="#141414" stroke-width="1.2" fill="none" />
<path d="M587.6 646.4 C600 650.5 640 661 660 665.2 L853.5 712" stroke="#141414" stroke-width="1.2" fill="none" />
<path d="M587.6 646.4 C589.5 652 589.5 658 587.6 662.7 C600 666 640 679 660 684.5 L760 706 L852 723.6 L860.9 725.4" stroke="#141414" stroke-width="2.2" fill="none" />
<path d="M653.6 660.3 L680 661.1 C730 664 790 670 840.2 677.4" stroke="#141414" stroke-width="2.2" fill="none" />
<path d="M599 647.5 C620 650 645 653.5 663.5 656.4 L645.5 660.5 L653.6 660.3" stroke="#141414" stroke-width="1.0" fill="none" />
<path d="M610 651.5 L636.5 656.4 L627 658 Z" stroke="#141414" stroke-width="0.8" fill="#bbb" />
<path d="M663.5 656.4 L645.5 660.5 L652 657.8 Z" stroke="#141414" stroke-width="0.8" fill="#bbb" />
<path d="M896.6 702 L893.5 704.5 L890.4 705 L868 701.4 C866 701.6 865 702.2 864 703 C862.5 704.3 861.9 705.5 861.9 707 C861.7 709 862 710.8 863 712.1 C864 713.6 865.5 714.6 867 715.2 L892.5 717.7 L890.4 723.3 L883.3 728.4 L879.2 729.4 L860.9 725.4" stroke="#141414" stroke-width="2.2" fill="none" />
<path d="M867.5 702.8 C865 704.5 864.3 709 865.8 711.5 C866.6 712.6 867.6 713.3 868.8 713.6 L889.5 715.8" stroke="#141414" stroke-width="1.0" fill="none" />
<path d="M856 678.5 L889 703.6" stroke="#141414" stroke-width="1.3" fill="none" />
<path d="M853.5 676.5 C852.2 678 851.6 680 851.9 682.6 C852.2 685 853 687.5 854.4 689.1 C857 692 861 694.5 865 696.4" stroke="#141414" stroke-width="1.4" fill="none" />
<path d="M853.5 676.5 L856 678.5 C855.2 680.5 855.4 682.5 856 684.2 C857.2 687 858.5 688.8 859.3 689.9 L865 696.4" stroke="#141414" stroke-width="1.1" fill="none" />
<path d="M854.3 678.3 C853.3 681 853.6 685 855.5 688 C857.5 691 861 693.5 864 695.5 C860.5 692 858 689 856.8 686 C855.6 683 855.4 680.5 854.3 678.3 Z" stroke="#141414" stroke-width="0.6" fill="#666" />
<path d="M851.8 690.2 L841.6 707" stroke="#141414" stroke-width="1.3" fill="none" />
<path d="M853.8 662.2 L875.2 664.8 C876.6 666 876.6 668 876.2 669.3 C875.6 673 874.8 676.5 873.6 679.5" stroke="#141414" stroke-width="1.6" fill="none" />
<path d="M875.2 664.8 C873 665.5 872.3 667 872.1 668.3 L871.1 677.5" stroke="#141414" stroke-width="1" fill="none" />
<path d="M841.6 707.5 L852.8 711.6" stroke="#141414" stroke-width="0.9" fill="none" />
<path d="M852.8 711.8 L840.5 711.1 L831.4 719.2 L850.7 722.8" stroke="#141414" stroke-width="1.2" fill="none" />
<path d="M842.5 712.6 L835.2 718.8 L849 721.6" stroke="#141414" stroke-width="0.9" fill="none" />
<path d="M840.8 711.6 L832.5 719 L836 719.4 L842.8 713 Z" stroke="#141414" stroke-width="0.5" fill="#666" />
<path d="M854.8 697.5L854.8 706.5 M851.5 699.0L854.8 702.5 M858.0 699.0L854.8 702.5 M852.0 701.5L854.8 704.5 M857.5 701.5L854.8 704.5" stroke="#141414" stroke-width="1" fill="none" opacity="1"/>
<path d="M872.0 714.3L872.8 716.0 M874.4 714.5L875.2 716.2 M876.8 714.8L877.6 716.5 M879.2 715.0L880.0 716.8 M881.6 715.3L882.4 717.0 M884.0 715.5L884.8 717.2 M886.4 715.8L887.2 717.5 M888.8 716.0L889.6 717.8" stroke="#141414" stroke-width="0.7" fill="none" opacity="1"/>
<path d="M901.4 640.4 L910 629.7 L916.7 633.7 L909.5 645 Z" stroke="#141414" stroke-width="1.7" fill="none" />
<path d="M916.7 633.7 L919.7 633.2 L963.5 667.9" stroke="#141414" stroke-width="2.4" fill="none" />
<path d="M963.5 667.9 L958.4 670.4 L935 667.9 C933 668.5 932.2 669.6 931.9 670.9 C931.6 672.5 932 674 933 675.5 C934.3 677.5 936 679 938 680.1 L959.9 683.6 L955.4 689.2 C953 691 950 692 947.2 692.3 C944 692.5 940.5 692 937 691.3 L900.4 683.6 C899 682.6 898.3 681.5 898.3 680.1 L900.4 667.9 L909.5 665.8 L911.6 660.7 L914.6 654.6 L910.5 649.5 L909.5 645" stroke="#141414" stroke-width="1.8" fill="none" />
<path d="M900.4 667.9 L893.2 666.3 C890.5 667.5 889.6 670 889.7 673 C889.9 676 890.6 678 891.7 679 L898.3 680.1" stroke="#141414" stroke-width="1.7" fill="none" />
<path d="M902.4 658.7 L906.5 653.6 L912.6 657.2 L909.5 662.8 Z" stroke="#141414" stroke-width="1.5" fill="none" />
<path d="M908.5 655 L906 660.8 M910 656 L907.5 661.8" stroke="#555" stroke-width="0.9" fill="none" />
<path d="M922.3 641.9 L958.4 669.8" stroke="#141414" stroke-width="1.1" fill="none" />
<path d="M918.2 645 L938 660.7 L930.9 664.8 L921.8 660.7 Z" stroke="#666" stroke-width="0.9" fill="none" />
<path d="M919.8 648 L935.5 660.6 L930.7 663.2 L923.2 659.8 Z" stroke="#888" stroke-width="0.7" fill="none" />
<path d="M915.6 672 L924.8 675 L930.9 684.2 L906.5 679 L913.5 675.8 Z" stroke="#666" stroke-width="0.9" fill="none" />
<path d="M904 672.5 L914 674.5" stroke="#888" stroke-width="0.7" fill="none" />
<path d="M936 677 C940 679.5 950 681 957.5 682" stroke="#141414" stroke-width="0.9" fill="none" />
<ellipse cx="913.6" cy="645.5" rx="0.9" ry="0.9" transform="rotate(0 913.6 645.5)" stroke="#141414" stroke-width="1" fill="#141414"/>
<ellipse cx="902.2" cy="677.3" rx="0.9" ry="0.9" transform="rotate(0 902.2 677.3)" stroke="#141414" stroke-width="1" fill="#141414"/>
<ellipse cx="934.5" cy="671.6" rx="1.6" ry="1.8" transform="rotate(0 934.5 671.6)" stroke="#141414" stroke-width="1.2" fill="#999"/>
<path d="M940.0 680.7L940.7 682.4 M942.2 681.0L942.9 682.7 M944.4 681.3L945.1 683.0 M946.6 681.6L947.3 683.3 M948.8 681.9L949.5 683.6 M951.0 682.2L951.7 683.9 M953.2 682.5L953.9 684.2 M955.4 682.8L956.1 684.5" stroke="#141414" stroke-width="0.7" fill="none" opacity="1"/>
<path d="M671.2 574.4 L677.3 564.7 C679.5 564.2 682.3 565.4 683.4 567.1 L677.9 577.5 Z" stroke="#141414" stroke-width="1.2" fill="#8a8a8a" />
<ellipse cx="671.3" cy="577.7" rx="7.2" ry="3.9" transform="rotate(24 671.3 577.7)" stroke="#141414" stroke-width="1.4" fill="#fff"/>
<path d="M664.3 577.3 C664.5 582 670 585.5 675.5 585.3 C677.5 585 678.5 583.5 678.3 581.5" stroke="#141414" stroke-width="1.4" fill="none" />
<path d="M663.6 581.5 L658 587.3 C657 590.5 659.5 593.8 662.6 593.7 C664.5 593.5 666 593 666.9 592.2 L671.2 585.4" stroke="#141414" stroke-width="1.5" fill="none" />
<path d="M671.2 574.4 C673 576.5 676 577.8 677.9 577.5" stroke="#141414" stroke-width="1" fill="none" />
<path d="M621.3 399 C621.8 396.5 623.2 395.2 625.3 394.8 C629 394 633 394 637.5 394.8 C642 395.8 646 397 649.7 399 C653.5 401 656.5 403.5 658.3 406.4 C659.3 408 659.4 409.8 658.9 411.3 C657.5 415 654.8 417.8 651.5 419.2 C648 419 644 418 640.5 416.8 L631.4 414.3 C628.5 412 626 409.3 624 406.4 C622.5 404 621.5 402.5 621.3 399 Z" stroke="#141414" stroke-width="1.8" fill="none" />
<path d="M625.3 397.8 C628 396 634 395.8 639.3 396.6 C643.5 397.6 646.5 399.3 647.3 401.5 C647.3 403.5 645.5 404.8 643 405.2 C638.5 405.3 634.5 403.3 631.4 401.5 C628.5 400 626.3 399 625.3 397.8 Z" stroke="#141414" stroke-width="1.2" fill="none" />
<path d="M622.8 400.5 C626 405 632 408.5 639.5 409 C645 409.5 651 408 655.5 405" stroke="#141414" stroke-width="1" fill="none" />
<path d="M623.5 402.8 C627 408 633 411.5 640 412.2" stroke="#141414" stroke-width="0.9" fill="none" />
<path d="M647.3 401.5 C651 402.5 655 405.5 657.3 409" stroke="#141414" stroke-width="1.1" fill="none" />
<ellipse cx="649.7" cy="413.2" rx="2.5" ry="3" transform="rotate(-25 649.7 413.2)" stroke="#141414" stroke-width="1.5" fill="none"/>
<path d="M645.2 409 C643.8 411.5 644 415.5 646 418" stroke="#141414" stroke-width="0.9" fill="none" />
<path d="M628.0 396.2L628.6 399.3 M629.7 396.2L630.3 399.6 M631.4 396.2L632.0 399.9 M633.1 396.2L633.7 400.2 M634.8 396.2L635.4 400.5 M636.5 396.2L637.1 400.8 M638.2 396.2L638.8 401.1 M639.9 396.2L640.5 401.4 M640.2 409.5L639.8 416.0 M641.7 409.5L641.3 416.0 M643.2 409.5L642.8 416.0" stroke="#555" stroke-width="0.8" fill="none" opacity="1"/>
<path d="M160.2 276 C161.5 274 164.5 273 167.5 273.2 C170.5 273.4 172.5 275 172.4 277 C172.2 279 170.5 280.5 168.8 281 C168.8 284 167.5 287 165 288.3 C162.5 289.2 160 288 159 285.5 C158.4 282.5 158.8 278.5 160.2 276 Z" stroke="#141414" stroke-width="1.3" fill="none" />
<ellipse cx="163.7" cy="277.3" rx="1.3" ry="1.3" transform="rotate(0 163.7 277.3)" stroke="#141414" stroke-width="0.9" fill="none"/>
<ellipse cx="163.6" cy="283.5" rx="2" ry="2.2" transform="rotate(0 163.6 283.5)" stroke="#141414" stroke-width="1.2" fill="none"/>
<path d="M166.8 276.8 C168 275.5 170 275.3 171 276.5" stroke="#141414" stroke-width="0.8" fill="none" />
<ellipse cx="179.3" cy="273.6" rx="3.3" ry="3.1" transform="rotate(0 179.3 273.6)" stroke="#141414" stroke-width="1.5" fill="none"/>
<ellipse cx="179.3" cy="273.6" rx="1.2" ry="1.2" transform="rotate(0 179.3 273.6)" stroke="#141414" stroke-width="1" fill="none"/>
<path d="M173.2 307.4 L179.1 300.8 L189.7 297.5 L196.3 294.2 L228.1 308.1 L229.4 310.7 L221.5 308.8 L217.5 310.7 L216.2 314.1 L212.2 316.7 L203.6 314.1 L200.3 309.4 L192.4 306.8 L184.4 310.1 Z" stroke="#141414" stroke-width="1.3" fill="none" />
<path d="M197.0 302.5L207.5 300.5 M202.6 297.5L203.8 305.5 M199.8 299.3L206.0 303.6 M205.6 299.0L200.5 304.2" stroke="#141414" stroke-width="1" fill="none" opacity="1"/>
<path d="M134.2 415 L147.2 416.6 C152.5 415 157.5 411.5 161.1 407.6 L169.2 415 L170.1 419.8 L174.9 423.9 L179.8 423.1 L188.8 430.4 L185.5 433.7 C181.5 433 177 433.3 173.3 434.5 L170.9 438.6 L155.4 429.6 L137.5 419.8 Z" stroke="#141414" stroke-width="1.3" fill="none" />
<path d="M137.5 419.8 L148 421 L155.4 429.6 M148 421 L147.2 416.6 M156.5 428 L171.5 436.5" stroke="#141414" stroke-width="0.9" fill="none" />
<path d="M146.4 258.0 L155.3 275.6 M148.8 269.3 L155.3 275.6 M154.1 266.7 L155.3 275.6" stroke="#141414" stroke-width="1.2" fill="none" />
<path d="M233.5 271.5 L212.5 296.4 M216.1 287.1 L212.5 296.4 M221.1 291.3 L212.5 296.4" stroke="#141414" stroke-width="1.1" fill="none" />
<path d="M94.7 340.8 L154.8 323.1 M146.6 328.9 L154.8 323.1 M144.8 322.6 L154.8 323.1" stroke="#141414" stroke-width="1.1" fill="none" />
<path d="M94.7 340.8 C110 346 130 358 147.7 364.2 M138.1 361.5 L147.7 364.2 M141.8 356.1 L147.7 364.2" stroke="#141414" stroke-width="1.1" fill="none" />
<path d="M125.5 457.0 L149.5 435.4 M144.6 444.1 L149.5 435.4 M140.3 439.3 L149.5 435.4" stroke="#141414" stroke-width="1.1" fill="none" />
<path d="M272.0 320.0 L226.0 351.5 M232.6 342.7 L226.0 351.5 M236.6 348.6 L226.0 351.5" stroke="#141414" stroke-width="1.2" fill="none" />
<path d="M277 411.4 C260 413 235 418 217 421.6 M225.5 416.3 L217.0 421.6 M226.9 422.7 L217.0 421.6" stroke="#141414" stroke-width="1.1" fill="none" />
<path d="M441.5 325.5 C449 340 454 362 455.3 381.5 M450.3 371.7 L455.3 381.5 M457.3 370.7 L455.3 381.5" stroke="#141414" stroke-width="1.3" fill="none" />
<path d="M585.8 353.8 C592 372 600 390 606.2 407.3 M598.8 399.2 L606.2 407.3 M605.3 396.3 L606.2 407.3" stroke="#141414" stroke-width="1.3" fill="none" />
<path d="M546.4 393.3 C549 408 551.5 420 552.7 434 M547.6 424.3 L552.7 434.0 M554.6 423.2 L552.7 434.0" stroke="#141414" stroke-width="1.2" fill="none" />
<path d="M701.7 357.6 C690 372 675 386 661 395.8 M665.7 387.0 L661.0 395.8 M670.1 391.7 L661.0 395.8" stroke="#141414" stroke-width="1.0" fill="none" />
<path d="M704.2 431.5 C690 435 670 438 650.8 439.1 M660.8 434.4 L650.8 439.1 M661.5 441.6 L650.8 439.1" stroke="#141414" stroke-width="1.1" fill="none" />
<path d="M540.0 533.0 L574.5 564.5 M564.4 560.1 L574.5 564.5 M569.2 554.8 L574.5 564.5" stroke="#141414" stroke-width="1.3" fill="none" />
<path d="M640.5 519.5 L618.0 485.0 M625.1 490.5 L618.0 485.0 M620.2 493.7 L618.0 485.0" stroke="#141414" stroke-width="1.2" fill="none" />
<path d="M285.3 531.6 L333.7 487.9 M328.9 496.7 L333.7 487.9 M324.5 491.8 L333.7 487.9" stroke="#141414" stroke-width="1.0" fill="none" />
<path d="M469.6 624.9 L508.3 605.5 M501.3 612.6 L508.3 605.5 M498.4 606.8 L508.3 605.5" stroke="#141414" stroke-width="1.2" fill="none" />
<path d="M676.3 695.7 L668.1 605.1 M673.0 616.0 L668.1 605.1 M665.2 616.8 L668.1 605.1" stroke="#141414" stroke-width="1.3" fill="none" />
<path d="M887.5 604 C889.5 620 895 638 900.9 653.8 M895.4 645.5 L900.9 653.8 M901.7 643.8 L900.9 653.8" stroke="#141414" stroke-width="1.2" fill="none" />
<path d="M921.0 736.5 L925.1 695.0 M927.6 705.7 L925.1 695.0 M920.5 705.0 L925.1 695.0" stroke="#141414" stroke-width="1.3" fill="none" />
<text x="112" y="265" font-size="19.1" fill="#141414" textLength="39.5" lengthAdjust="spacingAndGlyphs" text-anchor="start" >“RGT”</text>
<text x="206.5" y="268" font-size="20.1" fill="#141414" textLength="103.5" lengthAdjust="spacingAndGlyphs" text-anchor="start" >EXTERNAL GUSSET</text>
<text x="12.2" y="324.5" font-size="20.7" fill="#141414" textLength="60" lengthAdjust="spacingAndGlyphs" text-anchor="start" >INTERNAL</text>
<text x="11.2" y="341.8" font-size="18.0" fill="#141414" textLength="64" lengthAdjust="spacingAndGlyphs" text-anchor="start" >INTEGRATED</text>
<text x="11.2" y="360.2" font-size="19.1" fill="#141414" textLength="84.5" lengthAdjust="spacingAndGlyphs" text-anchor="start" >GUSSETS WITH</text>
<text x="10.2" y="379.5" font-size="20.1" fill="#141414" textLength="97" lengthAdjust="spacingAndGlyphs" text-anchor="start" >OFFSET THICKNESS</text>
<text x="68.5" y="478.5" font-size="20.1" fill="#141414" textLength="103.5" lengthAdjust="spacingAndGlyphs" text-anchor="start" >EXTERNAL GUSSET</text>
<text x="265.6" y="316.6" font-size="17.0" fill="#3a3a3a" textLength="38" lengthAdjust="spacingAndGlyphs" text-anchor="start"  font-style="italic">36 OD</text>
<text x="277" y="419.7" font-size="15.9" fill="#2a2a2a" textLength="30" lengthAdjust="spacingAndGlyphs" text-anchor="start"  font-style="italic">38OD</text>
<text x="393" y="258" font-size="16.4" fill="#141414" textLength="76" lengthAdjust="spacingAndGlyphs" text-anchor="start" >MULTI-BUTTED</text>
<text x="392" y="279" font-size="18.6" fill="#141414" textLength="93" lengthAdjust="spacingAndGlyphs" text-anchor="start" >2T X 1T X 1.5T</text>
<text x="393" y="299" font-size="17.0" fill="#141414" textLength="83" lengthAdjust="spacingAndGlyphs" text-anchor="start" >TAPERED TUBED</text>
<text x="391" y="321" font-size="18.6" fill="#141414" textLength="69" lengthAdjust="spacingAndGlyphs" text-anchor="start" >36 x 32 OD</text>
<text x="547.6" y="308" font-size="21.2" fill="#141414" textLength="84" lengthAdjust="spacingAndGlyphs" text-anchor="start" >EXTRA THICK</text>
<text x="543.8" y="329.6" font-size="16.4" fill="#141414" textLength="107" lengthAdjust="spacingAndGlyphs" text-anchor="start" >TOP TUBE/SEAT TUBE</text>
<text x="551.5" y="347.5" font-size="20.1" fill="#141414" textLength="76.5" lengthAdjust="spacingAndGlyphs" text-anchor="start" >JUNCTION</text>
<text x="520.9" y="392" font-size="16.4" fill="#3a3a3a" textLength="39.5" lengthAdjust="spacingAndGlyphs" text-anchor="start"  font-style="italic">32 OD</text>
<text x="701" y="333" font-size="19.1" fill="#141414" textLength="76.5" lengthAdjust="spacingAndGlyphs" text-anchor="start" >4130 CRMO</text>
<text x="700.4" y="349.5" font-size="17.5" fill="#141414" textLength="75" lengthAdjust="spacingAndGlyphs" text-anchor="start" >INVEST CAST</text>
<text x="719" y="423" font-size="24.4" fill="#141414" textLength="42" lengthAdjust="spacingAndGlyphs" text-anchor="start" >“HCS”</text>
<text x="715.4" y="444" font-size="19.1" fill="#141414" textLength="161" lengthAdjust="spacingAndGlyphs" text-anchor="start" >GREATER CLAMPING POWER</text>
<text x="716" y="466.5" font-size="22.3" fill="#141414" textLength="120" lengthAdjust="spacingAndGlyphs" text-anchor="start" >WITH LESS TORQUE</text>
<text x="473.4" y="506" font-size="17.0" fill="#141414" textLength="78.5" lengthAdjust="spacingAndGlyphs" text-anchor="start" >MULTI - BUTTED</text>
<text x="469.5" y="525.5" font-size="21.2" fill="#141414" textLength="96" lengthAdjust="spacingAndGlyphs" text-anchor="start" >1.5 MM. x 1MM</text>
<text x="628.5" y="542" font-size="20.7" fill="#141414" textLength="28.5" lengthAdjust="spacingAndGlyphs" text-anchor="start" >1.5T</text>
<text x="587" y="563.5" font-size="12" fill="#444" transform="rotate(8 587 563.5)" text-anchor="start" font-style="italic">1T</text>
<text x="458.5" y="578" font-size="13" fill="#444" transform="rotate(30 458.5 578)" text-anchor="start" font-style="italic">1T</text>
<text x="459" y="412" font-size="11" fill="#666" transform="rotate(12 459 412)" text-anchor="start" font-style="italic">1T</text>
<text x="238.2" y="557.1" font-size="17.5" fill="#141414" textLength="79" lengthAdjust="spacingAndGlyphs" text-anchor="start" >MULTI-BUTTED</text>
<text x="237.7" y="576.2" font-size="18.0" fill="#141414" textLength="56.5" lengthAdjust="spacingAndGlyphs" text-anchor="start" >2T X 1T</text>
<text x="238.2" y="594" font-size="17.5" fill="#141414" textLength="86.5" lengthAdjust="spacingAndGlyphs" text-anchor="start" >TAPERED TUBED</text>
<text x="235" y="615.7" font-size="21.2" fill="#141414" textLength="79.6" lengthAdjust="spacingAndGlyphs" text-anchor="start" >38 x 34 OD</text>
<text x="422.8" y="634" font-size="16.4" fill="#3a3a3a" textLength="39.7" lengthAdjust="spacingAndGlyphs" text-anchor="start"  font-style="italic">34 OD</text>
<text x="859.5" y="585.5" font-size="19.1" fill="#141414" textLength="95.5" lengthAdjust="spacingAndGlyphs" text-anchor="start" >THROUGH DESIGN</text>
<text x="858" y="600.7" font-size="18.0" fill="#141414" textLength="102" lengthAdjust="spacingAndGlyphs" text-anchor="start" >CHAIN TENSIONER</text>
<text x="604.4" y="720.5" font-size="20.1" fill="#141414" textLength="87.5" lengthAdjust="spacingAndGlyphs" text-anchor="start" >“DYLAN MOUNTS”</text>
<text x="694" y="720.5" font-size="14.8" fill="#141414" textLength="39.5" lengthAdjust="spacingAndGlyphs" text-anchor="start" >SYSTEM</text>
<text x="565.3" y="743" font-size="19.6" fill="#141414" textLength="200" lengthAdjust="spacingAndGlyphs" text-anchor="start" >THE CLEANEST BRAKE MOUNT SET UP</text>
<text x="583.7" y="765.5" font-size="21.2" fill="#141414" textLength="168" lengthAdjust="spacingAndGlyphs" text-anchor="start" >WITH THICKER 8MM THREAD</text>
<text x="627.4" y="784" font-size="19.1" fill="#141414" textLength="80.5" lengthAdjust="spacingAndGlyphs" text-anchor="start" >TO AVOID FLEX</text>
<text x="870.3" y="756.5" font-size="19.1" fill="#141414" textLength="66" lengthAdjust="spacingAndGlyphs" text-anchor="start" >8MM INVEST</text>
<text x="864.3" y="772.8" font-size="19.1" fill="#141414" textLength="76" lengthAdjust="spacingAndGlyphs" text-anchor="start" >CAST DROPOUTS</text>
</svg>
</body></html>
